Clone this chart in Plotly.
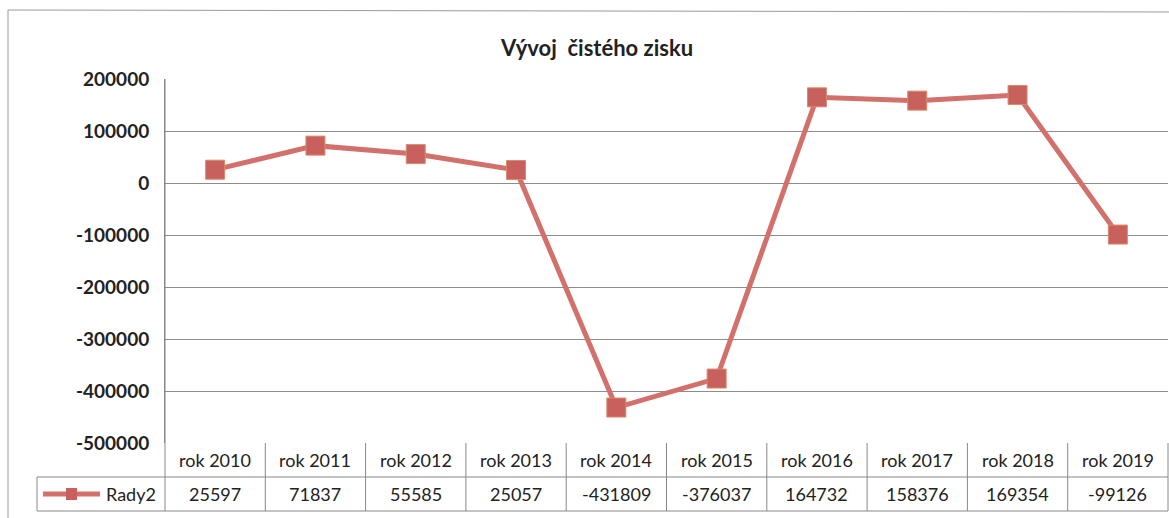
import plotly.graph_objects as go

categories = ["rok 2010", "rok 2011", "rok 2012", "rok 2013", "rok 2014",
              "rok 2015", "rok 2016", "rok 2017", "rok 2018", "rok 2019"]
values = [25597, 71837, 55585, 25057, -431809, -376037, 164732, 158376, 169354, -99126]
series_name = "Rady2"
title_text = "Vývoj  čistého zisku"
y_ticks = [200000, 100000, 0, -100000, -200000, -300000, -400000, -500000]

W, H = 1169, 518
L, R, T, B = 165, 1, 79, 75
pw, ph = W - L - R, H - T - B

def px(x):  # pixel x -> paper
    return (x - L) / pw

def py(y):  # pixel y -> paper
    return (H - B - y) / ph

LINE_COL = "#d2706b"
MARK_COL = "#c8615d"
GRID = "#8c8c8c"
FONT = "Lato, Open Sans, sans-serif"

n = len(categories)
xs = list(range(n))

fig = go.Figure()
fig.add_trace(go.Scatter(
    x=xs, y=values, mode="lines+markers", name=series_name,
    line=dict(color=LINE_COL, width=5),
    marker=dict(symbol="square", size=19, color=MARK_COL,
                line=dict(color="#d98a6a", width=1)),
    showlegend=False, cliponaxis=False,
))

shapes = []
# outer chart border (scan frame)
shapes.append(dict(type="line", xref="paper", yref="paper",
                   x0=px(8), x1=px(W + 5), y0=py(10), y1=py(12),
                   line=dict(color="#9a9a9a", width=1)))
shapes.append(dict(type="line", xref="paper", yref="paper",
                   x0=px(8), x1=px(8), y0=py(10), y1=py(H + 5),
                   line=dict(color="#9a9a9a", width=1)))

row1, row2, row3 = 443, 477, 511
tcol = "#888888"
# table horizontal lines
for ry in (row2, row3):
    shapes.append(dict(type="line", xref="paper", yref="paper",
                       x0=px(37), x1=1, y0=py(ry), y1=py(ry),
                       line=dict(color=tcol, width=1)))
# table vertical lines
shapes.append(dict(type="line", xref="paper", yref="paper",
                   x0=px(37), x1=px(37), y0=py(row2), y1=py(row3), line=dict(color=tcol, width=1)))
shapes.append(dict(type="line", xref="paper", yref="paper",
                   x0=0, x1=0, y0=1, y1=py(row3), line=dict(color=tcol, width=1)))
for i in range(1, n + 1):
    shapes.append(dict(type="line", xref="x domain", yref="paper",
                       x0=i / n, x1=i / n, y0=py(row1), y1=py(row3),
                       line=dict(color=tcol, width=1)))
# legend key in table
mid = (row2 + row3) / 2
shapes.append(dict(type="line", xref="paper", yref="paper",
                   x0=px(43), x1=px(100), y0=py(mid), y1=py(mid),
                   line=dict(color=LINE_COL, width=5)))
shapes.append(dict(type="rect", xref="paper", yref="paper",
                   x0=px(66), x1=px(77), y0=py(mid - 6), y1=py(mid + 6),
                   fillcolor=MARK_COL, line=dict(color=MARK_COL, width=0)))

annotations = []
for i, c in enumerate(categories):
    annotations.append(dict(x=i, y=py((row1 + row2) / 2), xref="x", yref="paper",
                            xanchor="center", yanchor="middle",
                            text=c, showarrow=False,
                            font=dict(family=FONT, size=18, color="#222")))
    annotations.append(dict(x=i, y=py(mid), xref="x", yref="paper",
                            xanchor="center", yanchor="middle",
                            text=str(values[i]), showarrow=False,
                            font=dict(family=FONT, size=18, color="#222")))
annotations.append(dict(x=px(158), y=py(mid), xref="paper", yref="paper",
                        text=series_name, showarrow=False,
                        xanchor="right", yanchor="middle",
                        font=dict(family=FONT, size=18, color="#222")))

fig.update_layout(
    width=W, height=H,
    margin=dict(l=L, r=R, t=T, b=B, autoexpand=False),
    paper_bgcolor="white", plot_bgcolor="white",
    title=dict(text="<b>" + title_text + "</b>", xref="container", x=597 / W,
               xanchor="center", yref="container", y=1 - 48 / H, yanchor="middle",
               font=dict(family=FONT, size=22, color="#222")),
    xaxis=dict(range=[-0.5, n - 0.5], showticklabels=False, showgrid=False,
               zeroline=False, showline=False, ticks=""),
    yaxis=dict(range=[-500000, 200000], tickvals=y_ticks,
               ticktext=[str(v) for v in y_ticks],
               showgrid=True, gridcolor=GRID, gridwidth=1,
               zeroline=False, showline=True, linecolor=tcol,
               ticks="", ticklabelstandoff=11,
               tickfont=dict(family=FONT, size=19, color="#222", weight="bold")),
    shapes=shapes, annotations=annotations,
)

fig.write_html("out.html", config={"displayModeBar": False},
               post_script="document.body.style.margin='0';document.body.style.overflow='hidden';")
